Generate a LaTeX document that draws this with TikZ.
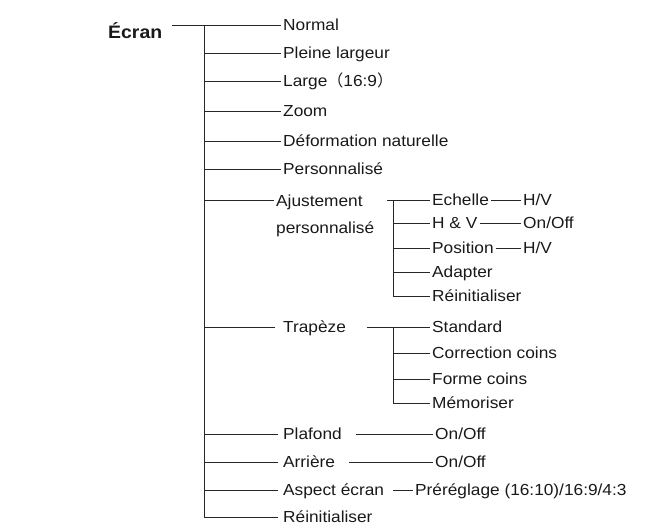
\documentclass[tikz,border=0pt]{standalone}
\usepackage{fontspec}
\setmainfont[FakeStretch=1.08]{Liberation Sans}
\newfontfamily\cjk{Noto Sans CJK SC}
\usepackage{tikz}
\usetikzlibrary{positioning,calc}
\tikzset{
  item/.style={anchor=west, inner xsep=2pt, inner ysep=0pt, text height=11.5pt, text depth=0pt, text=black!90, font=\fontsize{16}{27}\selectfont},
  head/.style={anchor=west, inner sep=0pt, text height=13pt, text depth=0pt, text=black!90, font=\fontsize{18}{20}\selectfont\bfseries},
  link/.style={line width=0.9pt, draw=black!85},
}

\begin{document}
\begin{tikzpicture}[x=1pt,y=-1pt]
  \useasboundingbox (0,0) rectangle (665,525);
  % main level
  \node[head] (ecran) at (108,32) {Écran};
  \node[item] (normal)  at (281,25)  {Normal};
  \node[item] (pleine)  at (281,53)  {Pleine largeur};
  \node[item] (large)   at (281,81)  {Large{\cjk （}16:9{\cjk ）}};
  \node[item] (zoom)    at (281,111) {Zoom};
  \node[item] (deform)  at (281,141) {Déformation naturelle};
  \node[item] (perso)   at (281,169) {Personnalisé};
  \node[item, anchor=north west, text height=, align=left] (ajust) at (274,194.3) {Ajustement\\personnalisé};
  \node[item, inner xsep=8pt] (trapeze) at (275,327) {Trapèze};
  \node[item, inner xsep=5pt] (plafond) at (278,434) {Plafond};
  \node[item, inner xsep=5pt] (arriere) at (278,462) {Arrière};
  \node[item, inner xsep=5pt] (aspect)  at (278,490) {Aspect écran};
  \node[item, inner xsep=5pt] (reinit)  at (278,517) {Réinitialiser};
  % sub levels
  \node[item] (echelle)  at (430,200) {Echelle};
  \node[item] (hetv)     at (430,223) {H \& V};
  \node[item] (position) at (430,248) {Position};
  \node[item] (adapter)  at (430,272) {Adapter};
  \node[item] (reinitb)  at (430,296) {Réinitialiser};
  \node[item] (hv1)   at (521,200) {H/V};
  \node[item] (onoff1) at (521,223) {On/Off};
  \node[item] (hv2)   at (521,248) {H/V};
  \node[item] (standard)   at (430,327) {Standard};
  \node[item] (correction) at (430,353) {Correction coins};
  \node[item] (forme)      at (430,379) {Forme coins};
  \node[item] (memoriser)  at (430,403) {Mémoriser};
  \node[item] (onoff2) at (433,434) {On/Off};
  \node[item] (onoff3) at (433,462) {On/Off};
  \node[item] (preset) at (413,490) {Préréglage (16:10)/16:9/4:3};
  % trunks
  \coordinate (t0) at (204,25);
  \coordinate (e0) at (172,25);
  \coordinate (ta0) at (387,200);
  \coordinate (ta) at (393,200);
  \coordinate (tb) at (393,327);
  \draw[link] (e0) -- (normal.west);
  \draw[link] (t0) |- (reinit.west);
  \foreach \n in {pleine,large,zoom,deform,perso,trapeze,plafond,arriere,aspect}
    \draw[link] (t0 |- \n.west) -- (\n.west);
  \draw[link] (t0 |- echelle.west) -- (ajust.west |- echelle.west);
  \draw[link] (ta0) -- (echelle.west);
  \draw[link] (ta) |- (reinitb.west);
  \foreach \n in {hetv,position,adapter}
    \draw[link] (ta |- \n.west) -- (\n.west);
  \draw[link] (echelle.east) -- (hv1.west);
  \draw[link] (hetv.east) -- (onoff1.west);
  \draw[link] (position.east) -- (hv2.west);
  \draw[link] ([xshift=13pt]trapeze.east) -- (standard.west);
  \draw[link] (tb) |- (memoriser.west);
  \foreach \n in {correction,forme}
    \draw[link] (tb |- \n.west) -- (\n.west);
  \draw[link] ([xshift=9pt]plafond.east) -- (onoff2.west);
  \draw[link] ([xshift=9pt]arriere.east) -- (onoff3.west);
  \draw[link] ([xshift=4pt]aspect.east) -- (preset.west);
\end{tikzpicture}
\end{document}
